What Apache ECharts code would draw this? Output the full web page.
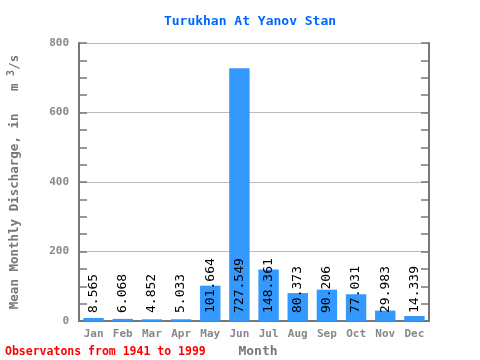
<!DOCTYPE html>
<html><head><meta charset="utf-8">
<script src="https://cdn.jsdelivr.net/npm/echarts@6/dist/echarts.min.js"></script>
<style>html,body{margin:0;padding:0;background:#fff}#c{width:480px;height:360px}</style>
</head><body><div id="c"></div>
<script>
const months = ['Jan','Feb','Mar','Apr','May','Jun','Jul','Aug','Sep','Oct','Nov','Dec'];
const discharge = [8.565, 6.068, 4.852, 5.033, 101.664, 727.549, 148.361, 80.373, 90.206, 77.031, 29.983, 14.339];
const yTicks = [0, 200, 400, 600, 800];

const FONT = 'DejaVu Sans Mono';
const axisGray = '#777777';
const chart = echarts.init(document.getElementById('c'));
chart.setOption({
  animation: false,
  title: {
    text: 'Turukhan At Yanov Stan', left: 245, top: 10, textAlign: 'center',
    textStyle: { fontFamily: FONT, fontSize: 13, fontWeight: 'bold', color: '#0066ff' }
  },
  graphic: [{
    type: 'text', left: 5, top: 346,
    style: { text: 'Observatons from 1941 to 1999', fontFamily: FONT, fontSize: 11.5, fontWeight: 'bold', fill: '#ff0000' }
  }],
  grid: { left: 79, right: 51, top: 43, bottom: 39, containLabel: false, outerBoundsMode: 'none' },
  xAxis: [{
    type: 'category', data: months, position: 'bottom',
    name: 'Month', nameLocation: 'middle', nameGap: 22,
    nameTextStyle: { fontFamily: FONT, fontSize: 13, fontWeight: 'bold', color: '#777', padding: [0, 0, 0, 8] },
    axisLine: { lineStyle: { color: axisGray, width: 2 } },
    axisTick: { inside: true, length: 5, lineStyle: { color: axisGray, width: 2 } },
    axisLabel: { fontFamily: FONT, fontSize: 11, fontWeight: 'bold', color: '#888', margin: 8 }
  }, {
    type: 'category', data: months, position: 'top',
    axisLine: { lineStyle: { color: axisGray, width: 2 } },
    axisTick: { inside: true, length: 5, lineStyle: { color: axisGray, width: 2 } },
    axisLabel: { show: false }
  }],
  yAxis: [{
    type: 'value', min: 0, max: 800, interval: 200, position: 'left',
    name: 'Mean Monthly Discharge, in   m {sup|3}/s', nameLocation: 'middle', nameGap: 55,
    nameTextStyle: { fontFamily: FONT, fontSize: 12.5, fontWeight: 'bold', color: '#777',
      rich: { sup: { fontFamily: FONT, fontSize: 10, fontWeight: 'bold', color: '#777', verticalAlign: 'top', padding: [0,0,8,0] } } },
    axisLine: { show: true, lineStyle: { color: axisGray, width: 2 } },
    axisTick: { show: true, inside: true, length: 8, lineStyle: { color: axisGray, width: 1.5 } },
    minorTick: { show: true, splitNumber: 4, length: 8, lineStyle: { color: axisGray, width: 1.5 } },
    axisLabel: { fontFamily: FONT, fontSize: 11, fontWeight: 'bold', color: '#888', margin: 10,
      formatter: v => yTicks.includes(v) ? String(v) : '' },
    splitLine: { show: true, lineStyle: { color: '#bbbbbb', width: 1 } }
  }, {
    type: 'value', min: 0, max: 800, interval: 200, position: 'right',
    axisLine: { show: true, lineStyle: { color: axisGray, width: 2 } },
    axisTick: { show: true, inside: true, length: 8, lineStyle: { color: axisGray, width: 1.5 } },
    minorTick: { show: true, splitNumber: 4, length: 8, lineStyle: { color: axisGray, width: 1.5 } },
    axisLabel: { show: false },
    splitLine: { show: false }
  }],
  series: [{
    type: 'bar', data: discharge, barWidth: '70%', xAxisIndex: 0, yAxisIndex: 0,
    itemStyle: { color: '#3399ff' },
    label: {
      show: true, position: 'insideBottom', rotate: 90, align: 'left', verticalAlign: 'middle',
      distance: 7, offset: [1, 0], fontFamily: FONT, fontSize: 13, fontWeight: 'normal', color: '#000',
      formatter: p => String(discharge[p.dataIndex])
    }
  }]
});
</script></body></html>
